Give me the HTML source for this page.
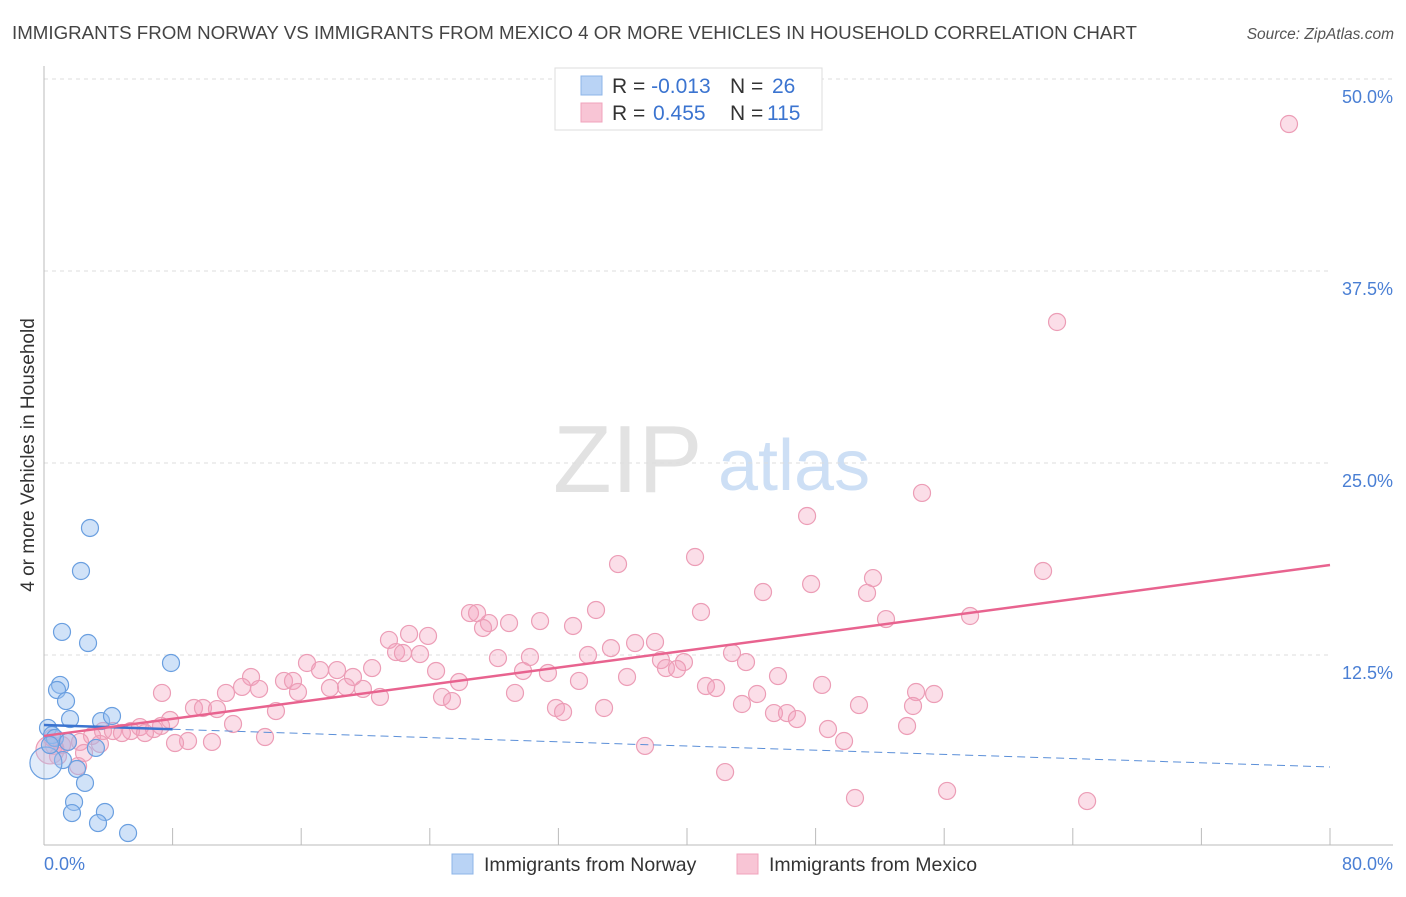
<!DOCTYPE html>
<html><head><meta charset="utf-8"><style>
body{margin:0;background:#fff;font-family:"Liberation Sans",sans-serif}
svg text{font-family:"Liberation Sans",sans-serif}
</style></head><body>
<svg id="chart" width="1406" height="892">
<text x="12" y="39" font-size="18" textLength="1125" lengthAdjust="spacingAndGlyphs" fill="#444">IMMIGRANTS FROM NORWAY VS IMMIGRANTS FROM MEXICO 4 OR MORE VEHICLES IN HOUSEHOLD CORRELATION CHART</text>
<text x="1394" y="39" font-size="15.5" fill="#555" font-style="italic" text-anchor="end">Source: ZipAtlas.com</text>
<g>
<text x="553" y="492" font-size="96" font-family="Liberation Serif" fill="#e2e2e2">ZIP</text>
<text x="718" y="490" font-size="72" fill="#cddff5">atlas</text>
</g>
<g id="grid"></g>
<g id="axes"></g>
<g id="marks"></g>
<text transform="translate(34,455) rotate(-90)" font-size="19" fill="#333" text-anchor="middle">4 or more Vehicles in Household</text>
<g>
<rect x="555" y="68" width="267" height="62" fill="#fff" stroke="#ddd"/>
<rect x="581" y="76" width="21" height="19" fill="#b9d3f5" stroke="#8db4e8"/>
<rect x="581" y="103" width="21" height="19" fill="#f8c5d5" stroke="#f0a3bc"/>
<text x="612" y="93" font-size="21" fill="#333">R = <tspan fill="#3b74d0">-0.013</tspan><tspan x="730">N = </tspan><tspan x="772" fill="#3b74d0">26</tspan></text>
<text x="612" y="120" font-size="21" fill="#333">R = <tspan x="653" fill="#3b74d0">0.455</tspan><tspan x="730">N = </tspan><tspan x="767" fill="#3b74d0">115</tspan></text>
</g>
<g>
<rect x="452" y="854" width="21" height="20" fill="#b9d3f5" stroke="#8db4e8"/>
<text x="484" y="871" font-size="19.5" fill="#333">Immigrants from Norway</text>
<rect x="737" y="854" width="21" height="20" fill="#f8c5d5" stroke="#f0a3bc"/>
<text x="769" y="871" font-size="19.5" fill="#333">Immigrants from Mexico</text>
</g>
</svg>
<script>
const xTicks=[0,8,16,24,32,40,48,56,64,72,80];
const yTicks=[12.5,25,37.5,50];
const yTickLabels=["12.5%","25.0%","37.5%","50.0%"];
const xEndLabels=["0.0%","80.0%"];
const norwayX=[2.86,2.30,1.12,2.74,7.90,1.0,0.81,1.37,1.62,3.55,4.23,0.25,0.5,0.68,1.49,3.23,1.18,2.05,2.55,1.87,1.74,3.79,3.36,5.23,0.12,0.37];
const norwayY=[20.77,17.97,14.0,13.28,11.98,10.55,10.22,9.5,8.33,8.2,8.53,7.75,7.29,7.10,6.84,6.45,5.66,5.08,4.17,2.93,2.21,2.28,1.56,0.91,5.47,6.64];
const norwayBig=[0,0,0,0,0,0,0,0,0,0,0,0,0,0,0,0,0,0,0,0,0,0,0,0,1,0];
const mexicoX=[77.45,63.02,54.62,47.47,40.50,35.71,62.15,51.57,47.72,44.73,51.20,34.34,40.87,26.50,26.94,27.68,57.61,30.86,27.31,28.93,52.38,32.91,22.71,23.89,21.46,36.77,38.01,21.90,22.33,35.27,23.39,42.80,33.84,28.24,30.23,39.81,38.38,38.69,43.67,16.36,20.41,39.38,17.17,29.80,18.23,19.22,24.39,12.88,14.93,15.49,36.27,31.35,45.66,33.28,25.82,12.32,13.38,18.79,17.79,19.84,15.80,48.40,41.18,41.81,29.30,7.34,11.32,20.90,24.76,25.38,44.36,54.25,55.37,54.06,43.42,50.70,9.33,9.89,10.76,31.85,34.84,32.29,14.43,45.41,46.22,46.84,7.84,11.76,53.69,7.28,5.97,6.84,5.41,3.67,4.29,6.28,4.85,2.99,48.77,8.96,13.75,3.48,8.15,10.45,49.77,37.39,1.49,2.24,1.12,0.62,2.49,0.87,2.12,42.37,50.45,56.18,64.89,0.37,0.50];
const mexicoY=[47.07,34.18,23.05,21.55,18.88,18.42,17.97,17.51,17.12,16.60,16.54,15.43,15.30,15.23,15.23,14.58,15.04,14.71,14.26,14.58,14.84,14.39,13.87,13.74,13.48,13.28,13.35,12.69,12.63,12.95,12.56,12.63,12.50,12.30,12.37,12.04,12.17,11.65,12.04,11.98,11.65,11.59,11.52,11.46,11.52,11.07,11.46,11.07,10.81,10.81,11.07,11.33,11.13,10.81,10.74,10.42,10.29,10.42,10.35,10.29,10.09,10.55,10.48,10.35,10.03,10.03,10.03,9.77,9.77,9.50,9.96,10.09,9.96,9.18,9.31,9.24,9.05,9.05,8.98,9.05,9.05,8.79,8.85,8.72,8.72,8.33,8.27,8.01,7.88,7.88,7.81,7.68,7.55,7.55,7.55,7.42,7.42,7.23,7.68,6.90,7.16,6.71,6.77,6.84,6.90,6.58,6.84,6.84,6.64,6.58,6.12,5.92,5.27,4.88,3.19,3.65,2.99,6.32,7.10];
const mexicoBig=mexicoX.map((v,i)=>i===mexicoX.length-2?1:0);
const norwayTrend=[7.94,5.21];
const mexicoTrend=[7.23,18.36];
const NS='http://www.w3.org/2000/svg';
const X=v=>44+v*16.075, Y=v=>847-v*15.36;
function mk(tag,attrs,parent){const e=document.createElementNS(NS,tag);for(const k in attrs)e.setAttribute(k,attrs[k]);document.getElementById(parent).appendChild(e);return e;}
yTicks.forEach((t,i)=>{
 const g=mk('line',{x1:44,x2:i===3?1393:1330,y1:Y(t),y2:Y(t),stroke:'#ddd','stroke-dasharray':'4,4'},'grid');
 
 
 const tx=mk('text',{x:1393,y:Y(t)+24,'font-size':18,fill:'#4a7fd4','text-anchor':'end'},'grid');
 tx.textContent=yTickLabels[i];
 
 
});
const ya=mk('line',{x1:44,x2:44,y1:66,y2:845,stroke:'#bbb'},'axes');


const xa=mk('line',{x1:44,x2:1393,y1:845,y2:845,stroke:'#bbb'},'axes');


xTicks.forEach(t=>{const l=mk('line',{x1:X(t),x2:X(t),y1:828,y2:845,stroke:'#bbb'},'axes');
 
 });
[[0,'start',44],[80,'end',1393]].forEach((d,i)=>{const t=mk('text',{x:d[2],y:870,'font-size':18,fill:'#4a7fd4','text-anchor':d[1]},'axes');t.textContent=xEndLabels[i];
 
 });
mexicoX.forEach((x,i)=>{const c=mk('circle',{cx:X(x),cy:Y(mexicoY[i]),r:mexicoBig[i]?14:8.5,fill:'rgba(244,160,188,0.35)',stroke:'#ec9db6','stroke-width':1.2},'marks');
 
 });
norwayX.forEach((x,i)=>{const c=mk('circle',{cx:X(x),cy:Y(norwayY[i]),r:norwayBig[i]?16:8.5,fill:norwayBig[i]?'rgba(170,200,240,0.35)':'rgba(150,190,240,0.45)',stroke:'#6a9fe0','stroke-width':1.2},'marks');
 
 });
const nAt=v=>norwayTrend[0]+(norwayTrend[1]-norwayTrend[0])*v/80;
const nd=mk('line',{x1:X(8),y1:Y(nAt(8)),x2:X(80),y2:Y(nAt(80)),stroke:'#5b8fd8','stroke-width':1,'stroke-dasharray':'8,5'},'marks');


const ns=mk('line',{x1:X(0),y1:Y(nAt(0)),x2:X(8),y2:Y(nAt(8)),stroke:'#3b74d0','stroke-width':2.5},'marks');


const ms=mk('line',{x1:X(0),y1:Y(mexicoTrend[0]),x2:X(80),y2:Y(mexicoTrend[1]),stroke:'#e8638f','stroke-width':2.5},'marks');


</script>
</body></html>
